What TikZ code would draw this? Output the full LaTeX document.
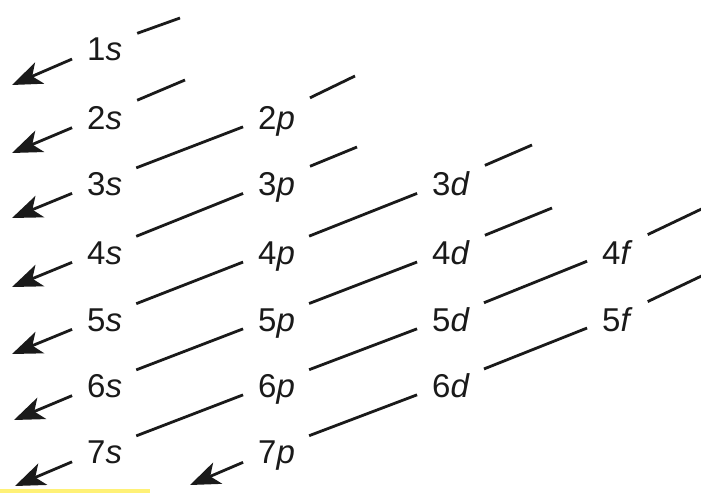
\documentclass[tikz,border=0pt]{standalone}
\usepackage{fontspec}
\setmainfont{Liberation Sans}
\usetikzlibrary{arrows.meta}
\definecolor{InkGray}  {HTML}{1A1A1A}
\definecolor{ScanYellow}{HTML}{FFF176}
\tikzset{
  orb/.style={inner xsep=14pt,inner ysep=2pt,text height=30pt,text depth=0pt,
              anchor=base west,font=\fontsize{33}{36}\selectfont,text=InkGray},
  seg/.style={line width=2.8pt,color=InkGray,shorten <=1pt},
  segarr/.style={seg,-{Stealth[length=30pt,width=23pt,inset=8pt]}},
}

\begin{document}
\begin{tikzpicture}[x=1pt,y=-1pt]

  \useasboundingbox (0,0) rectangle (701,493);
  \clip (0,0) rectangle (701,493);

  % s column
  \node[orb] (s1) at (73,60)  {1\textit{s}};
  \node[orb] (s2) at (73,129) {2\textit{s}};
  \node[orb] (s3) at (73,195) {3\textit{s}};
  \node[orb] (s4) at (73,264) {4\textit{s}};
  \node[orb] (s5) at (73,331) {5\textit{s}};
  \node[orb] (s6) at (73,397) {6\textit{s}};
  \node[orb] (s7) at (73,463) {7\textit{s}};

  % p column
  \node[orb] (p2) at (244,129) {2\textit{p}};
  \node[orb] (p3) at (244,195) {3\textit{p}};
  \node[orb] (p4) at (244,264) {4\textit{p}};
  \node[orb] (p5) at (244,331) {5\textit{p}};
  \node[orb] (p6) at (244,397) {6\textit{p}};
  \node[orb] (p7) at (244,463) {7\textit{p}};

  % d column
  \node[orb] (d3) at (418,195) {3\textit{d}};
  \node[orb] (d4) at (418,264) {4\textit{d}};
  \node[orb] (d5) at (418,331) {5\textit{d}};
  \node[orb] (d6) at (418,397) {6\textit{d}};

  % f column
  \node[orb] (f4) at (588,264) {4\textit{f}};
  \node[orb] (f5) at (588,331) {5\textit{f}};

  % free ends of the diagonals
  \coordinate (e1) at (180,18);
  \coordinate (e2) at (185,80);
  \coordinate (e3) at (355,76);
  \coordinate (e4) at (357,147);
  \coordinate (e5) at (532,145);
  \coordinate (e6) at (552,208);
  \coordinate (e7) at (712,204);
  \coordinate (e8) at (712,271);

  % arrow tips
  \coordinate (a1) at (12,85);
  \coordinate (a2) at (12,153);
  \coordinate (a3) at (12,218);
  \coordinate (a4) at (12,287);
  \coordinate (a5) at (12,354);
  \coordinate (a6) at (14,420);
  \coordinate (a7) at (15,486);
  \coordinate (a8) at (190,485);

  \draw[seg] (s1) -- (e1);
  \draw[segarr] (s1) -- (a1);

  \draw[seg] (s2) -- (e2);
  \draw[segarr] (s2) -- (a2);

  \draw[seg] (p2) -- (e3);
  \draw[seg] (p2) -- (s3);
  \draw[segarr] (s3) -- (a3);

  \draw[seg] (p3) -- (e4);
  \draw[seg] (p3) -- (s4);
  \draw[segarr] (s4) -- (a4);

  \draw[seg] (d3) -- (e5);
  \draw[seg] (d3) -- (p4);
  \draw[seg] (p4) -- (s5);
  \draw[segarr] (s5) -- (a5);

  \draw[seg] (d4) -- (e6);
  \draw[seg] (d4) -- (p5);
  \draw[seg] (p5) -- (s6);
  \draw[segarr] (s6) -- (a6);

  \draw[seg] (f4) -- (e7);
  \draw[seg] (f4) -- (d5);
  \draw[seg] (d5) -- (p6);
  \draw[seg] (p6) -- (s7);
  \draw[segarr] (s7) -- (a7);

  \draw[seg] (f5) -- (e8);
  \draw[seg] (f5) -- (d6);
  \draw[seg] (d6) -- (p7);
  \draw[segarr] (p7) -- (a8);

  \fill[ScanYellow] (0,489) rectangle (150,493);

\end{tikzpicture}
\end{document}
